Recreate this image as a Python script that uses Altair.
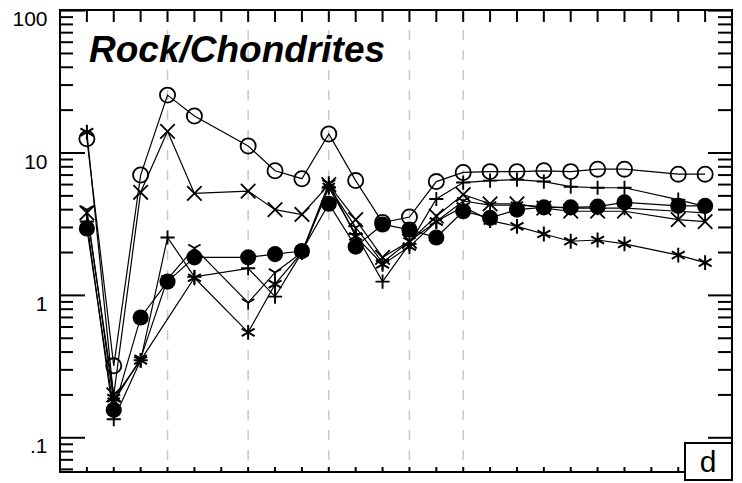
import altair as alt
import pandas as pd

# ---------------- data ----------------
positions = [1, 2, 3, 4, 5, 7, 8, 9, 10, 11, 12, 13, 14, 15, 16, 17, 18, 19, 20, 21, 23, 24]

open_circle = [12.6, 0.32, 7.0, 25.5, 18.2, 11.2, 7.5, 6.6, 13.6, 6.4, 3.25, 3.55, 6.3, 7.3, 7.4, 7.4, 7.5, 7.4, 7.7, 7.7, 7.1, 7.1]
cross = [3.8, 0.2, 5.3, 14.2, 5.2, 5.4, 4.0, 3.7, 6.0, 3.4, 1.85, 2.4, 3.6, 5.1, 4.4, 4.4, 4.1, 3.9, 3.9, 3.9, 3.4, 3.3]
plus = [3.3, 0.135, 0.35, 2.55, 1.35, 1.55, 0.98, 2.0, 5.7, 2.7, 1.25, 2.3, 4.75, 6.2, 6.4, 6.5, 6.3, 5.8, 5.7, 5.7, 4.7, 4.2]
tri = [4.0, 0.18, 0.36, 1.3, 2.15, 0.89, 1.45, 2.0, 5.8, 3.0, 1.7, 2.4, 3.3, 4.6, 4.3, 4.3, 4.2, 4.1, 4.1, 4.1, 3.9, 3.8]
asterisk = [14.0, 0.19, 0.35, None, 1.33, 0.55, 1.2, 2.0, 6.1, 2.6, 1.65, 2.2, 3.3, 4.2, 3.35, 3.05, 2.7, 2.4, 2.45, 2.3, 1.92, 1.7]
filled_circle = [2.95, 0.157, 0.70, 1.25, 1.85, 1.85, 1.95, 2.05, 4.4, 2.2, 3.15, 2.9, 2.55, 3.9, 3.5, 4.0, 4.15, 4.15, 4.2, 4.5, 4.25, 4.25]

series_names = ["open", "cross", "plus", "tri", "asterisk", "filled"]
series_values = [open_circle, cross, plus, tri, asterisk, filled_circle]

x_tick_positions = list(range(1, 25))
dashed_positions = [4, 7, 10, 13, 15]
y_tick_values = [0.1, 1, 10, 100]
y_tick_labels = [".1", "1", "10", "100"]
y_minor_values = [0.06, 0.07, 0.08, 0.09,
                  0.2, 0.3, 0.4, 0.5, 0.6, 0.7, 0.8, 0.9,
                  2, 3, 4, 5, 6, 7, 8, 9,
                  20, 30, 40, 50, 60, 70, 80, 90]
title_text = "Rock/Chondrites"
panel_letter = "d"

# ---------------- build table ----------------
rows = []
for name, vals in zip(series_names, series_values):
    for p, v in zip(positions, vals):
        if v is not None:
            rows.append({"series": name, "p": p, "v": v})
df = pd.DataFrame(rows)

W, H = 672, 462
xs = alt.Scale(domain=[0, 25], nice=False, zero=False)
ys = alt.Scale(type="log", domain=[0.0575, 101], nice=False)

label_expr = " : ".join(
    [f"datum.value == {v} ? '{l}'" for v, l in zip(y_tick_values, y_tick_labels)]
) + " : ''"

y_axis = alt.Axis(values=y_tick_values, labelExpr=label_expr, ticks=False, domain=False,
                  grid=False, labelFont="Liberation Sans", labelFontSize=21,
                  labelColor="black", labelPadding=13, labelOffset=9, title=None)


def X(field):
    return alt.X(f"{field}:Q", scale=xs, axis=None)


def Y(field):
    return alt.Y(f"{field}:Q", scale=ys, axis=y_axis)


dashed = alt.Chart(pd.DataFrame({"p": dashed_positions})).mark_rule(
    color="#c8c8c8", strokeWidth=1.5, strokeDash=[10, 10]
).encode(x=X("p"), y=alt.value(0), y2=alt.value(H))

major_df = pd.DataFrame({"v": y_tick_values})
minor_df = pd.DataFrame({"v": y_minor_values})
xt_df = pd.DataFrame({"p": x_tick_positions})

left_major = alt.Chart(major_df).mark_rule(color="black", strokeWidth=2).encode(
    y=Y("v"), x=alt.value(0), x2=alt.value(25))
left_minor = alt.Chart(minor_df).mark_rule(color="black", strokeWidth=2).encode(
    y=Y("v"), x=alt.value(0), x2=alt.value(13))
right_major = alt.Chart(major_df).mark_rule(color="black", strokeWidth=2).encode(
    y=Y("v"), x=alt.value(W - 24), x2=alt.value(W))
right_minor = alt.Chart(minor_df).mark_rule(color="black", strokeWidth=2).encode(
    y=Y("v"), x=alt.value(W - 14), x2=alt.value(W))
top_ticks = alt.Chart(xt_df).mark_rule(color="black", strokeWidth=2).encode(
    x=X("p"), y=alt.value(0), y2=alt.value(12))
bottom_ticks = alt.Chart(xt_df).mark_rule(color="black", strokeWidth=2).encode(
    x=X("p"), y=alt.value(H - 5), y2=alt.value(H))

lines = alt.Chart(df).mark_line(color="black", strokeWidth=1.2).encode(
    x=X("p"), y=Y("v"), detail="series:N", order="p:Q")

shape_paths = {
    "open": "circle",
    "cross": "M-1,-1L1,1M-1,1L1,-1",
    "plus": "M-1,0L1,0M0,-1L0,1",
    "tri": "M0,0L0,1M0,0L-0.87,-0.5M0,0L0.87,-0.5",
    "asterisk": "M0,-1L0,1M-0.87,-0.5L0.87,0.5M-0.87,0.5L0.87,-0.5",
}
shape_sizes = {"open": 230, "cross": 210, "plus": 200, "tri": 200, "asterisk": 220}
shape_widths = {"open": 1.8, "cross": 1.8, "plus": 1.9, "tri": 1.8, "asterisk": 2.0}

point_layers = []
for name in ["open", "cross", "plus", "tri", "asterisk"]:
    point_layers.append(
        alt.Chart(df).transform_filter(alt.datum.series == name).mark_point(
            shape=shape_paths[name], filled=False, stroke="black",
            strokeWidth=shape_widths[name], size=shape_sizes[name], opacity=1
        ).encode(x=X("p"), y=Y("v"))
    )
point_layers.append(
    alt.Chart(df).transform_filter(alt.datum.series == "filled").mark_point(
        shape="circle", filled=True, color="black", size=260, opacity=1
    ).encode(x=X("p"), y=Y("v"))
)

title = alt.Chart(pd.DataFrame({"t": [title_text]})).mark_text(
    font="Liberation Sans", fontSize=37, fontWeight="bold", fontStyle="italic",
    align="left", baseline="alphabetic", color="black"
).encode(text="t:N", x=alt.value(29), y=alt.value(52))

box = alt.Chart(pd.DataFrame({"t": [panel_letter]})).mark_rect(
    fill="white", stroke="black", strokeWidth=2
).encode(x=alt.value(625), x2=alt.value(672), y=alt.value(433), y2=alt.value(470))

letter = alt.Chart(pd.DataFrame({"t": [panel_letter]})).mark_text(
    font="Liberation Sans", fontSize=30, align="center", baseline="alphabetic", color="black"
).encode(text="t:N", x=alt.value(648), y=alt.value(462))

chart = alt.layer(
    dashed, lines, *point_layers,
    left_major, left_minor, right_major, right_minor, top_ticks, bottom_ticks,
    title, box, letter
).properties(
    width=W, height=H,
    padding={"left": 52, "top": 2, "right": 2, "bottom": 11},
    autosize=alt.AutoSizeParams(type="none"),
    background="white"
).configure_view(stroke="black", strokeWidth=2)

chart.save("out.html", embed_options={"renderer": "svg", "actions": False})
